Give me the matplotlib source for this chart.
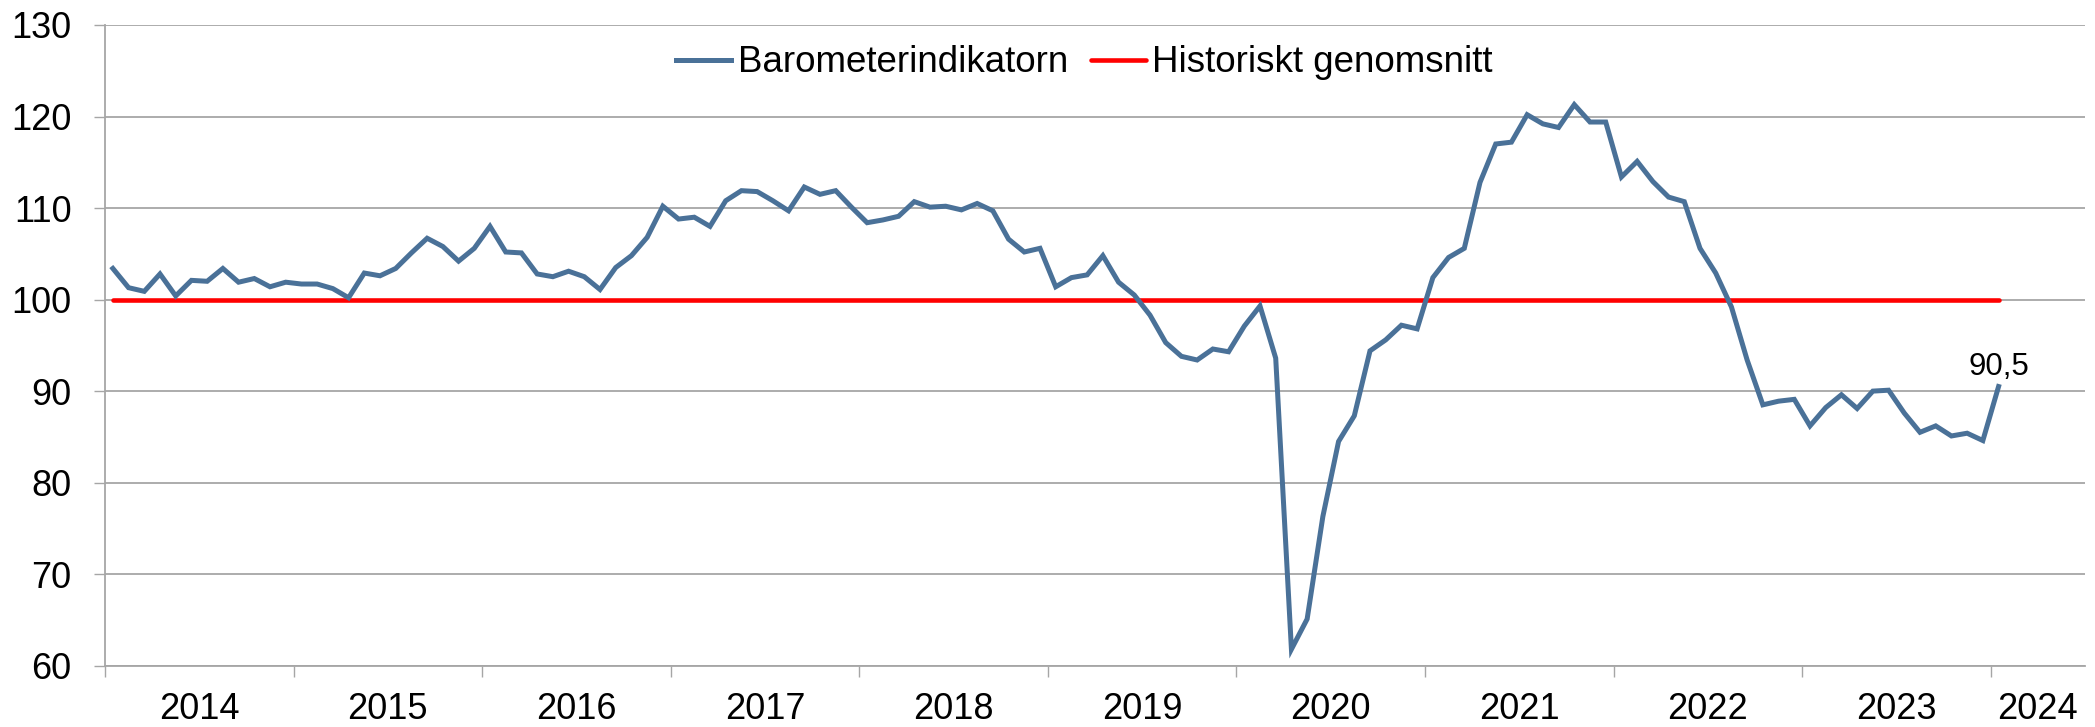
import matplotlib
matplotlib.use("Agg")
import matplotlib.pyplot as plt
import numpy as np

plt.rcParams['font.family'] = ['Liberation Sans', 'DejaVu Sans']

# Monthly values, Jan 2014 .. Jan 2024
barometer = [
    103.4, 101.3, 100.9, 102.8, 100.4, 102.1, 102.0, 103.4, 101.9, 102.3, 101.4, 101.9,  # 2014
    101.7, 101.7, 101.2, 100.2, 102.9, 102.6, 103.4, 105.1, 106.7, 105.8, 104.2, 105.6,  # 2015
    108.0, 105.2, 105.1, 102.8, 102.5, 103.1, 102.5, 101.1, 103.5, 104.8, 106.8, 110.2,  # 2016
    108.8, 109.0, 108.0, 110.8, 111.9, 111.8, 110.8, 109.7, 112.3, 111.5, 111.9, 110.1,  # 2017
    108.4, 108.7, 109.1, 110.7, 110.1, 110.2, 109.8, 110.5, 109.7, 106.6, 105.2, 105.6,  # 2018
    101.4, 102.4, 102.7, 104.8, 101.9, 100.5, 98.3, 95.3, 93.8, 93.4, 94.6, 94.3,        # 2019
    97.1, 99.3, 93.6, 61.8, 65.1, 76.3, 84.5, 87.3, 94.4, 95.6, 97.2, 96.8,              # 2020
    102.4, 104.6, 105.6, 112.8, 117.0, 117.2, 120.2, 119.2, 118.8, 121.3, 119.4, 119.4,  # 2021
    113.4, 115.1, 112.9, 111.2, 110.7, 105.6, 102.9, 99.2, 93.4, 88.5, 88.9, 89.1,       # 2022
    86.2, 88.2, 89.6, 88.1, 90.0, 90.1, 87.6, 85.5, 86.2, 85.1, 85.4, 84.6,              # 2023
    90.5,                                                                                # 2024
]
historical_avg = [100.0] * len(barometer)
years = [str(y) for y in range(2014, 2025)]
n_categories = 126  # axis runs to mid 2024

x = np.arange(len(barometer))

fig = plt.figure(figsize=(20.95, 7.27), dpi=100)
ax = fig.add_axes([105 / 2095, 1 - 665.7 / 727, 1980 / 2095, 640.7 / 727])

grid_col = '#a6a6a6'
blue = '#4a7198'

ax.plot(x, barometer, color=blue, lw=3.6, label='Barometerindikatorn',
        solid_joinstyle='miter', zorder=3)
ax.plot(x, historical_avg, color='#ff0000', lw=3.3, label='Historiskt genomsnitt',
        solid_capstyle='round', zorder=2)

ax.set_xlim(-0.5, n_categories - 0.5)
ax.set_ylim(60, 130)
ax.set_yticks(np.arange(60, 131, 10))
ax.yaxis.grid(True, color=grid_col, lw=1.3)
ax.set_axisbelow(True)

# year ticks between categories, labels centred in each year
tick_pos = np.arange(-0.5, 120, 12)
ax.set_xticks(tick_pos)
ax.set_xticklabels([])
label_pos = [p + 6 for p in tick_pos[:-1]] + [(tick_pos[-1] + n_categories - 0.5) / 2]
ax.set_xticks(label_pos, minor=True)
ax.set_xticklabels(years, minor=True)
ax.tick_params(axis='x', which='major', length=7.7, width=1.0, color=grid_col)
ax.tick_params(axis='x', which='minor', length=0, pad=19, labelsize=26)
ax.tick_params(axis='y', length=8.2, width=1.0, color=grid_col, pad=16, labelsize=26)

for s in ['top', 'right']:
    ax.spines[s].set_visible(False)
for s in ['left', 'bottom']:
    ax.spines[s].set_color(grid_col)
    ax.spines[s].set_linewidth(1.3)

ax.annotate('90,5', (x[-1], barometer[-1]), xytext=(0, 8.6), textcoords='offset points',
            ha='center', va='baseline', fontsize=22.5)

leg = ax.legend(loc='center', bbox_to_anchor=(0.4947, 0.9407), ncol=2, frameon=False,
                fontsize=26.5, handlelength=1.5, handletextpad=0.17, columnspacing=0.62,
                borderaxespad=0)

fig.savefig('out.png', dpi=100)
